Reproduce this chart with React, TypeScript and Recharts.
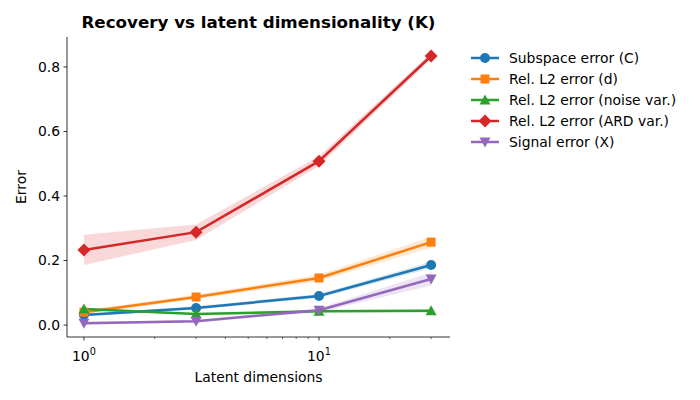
import React from "react";
import {
  ComposedChart,
  Line,
  Area,
  XAxis,
  YAxis,
} from "recharts";

// Latent dimensionality K (log x-axis)
const latentDims = [1, 3, 10, 30];

// Mean errors per series
const subspaceErr = [0.031, 0.053, 0.09, 0.186];
const relL2D = [0.04, 0.087, 0.146, 0.257];
const relL2Noise = [0.05, 0.034, 0.043, 0.044];
const relL2Ard = [0.233, 0.288, 0.508, 0.834];
const signalErr = [0.006, 0.012, 0.046, 0.143];

// Spread (half-width of shaded band) per series
const subspaceSpread = [0.004, 0.005, 0.006, 0.01];
const relL2DSpread = [0.006, 0.007, 0.01, 0.017];
const relL2NoiseSpread = [0.004, 0.003, 0.004, 0.005];
const relL2ArdSpread = [0.047, 0.024, 0.015, 0.01];
const signalSpread = [0.004, 0.004, 0.006, 0.02];

const yTicks = [0, 0.2, 0.4, 0.6, 0.8];
const xTicksMajor = [1, 10];
const xTicksMinor = [2, 3, 4, 5, 6, 7, 8, 9, 20, 30];

const FONT = "DejaVu Sans, sans-serif";

type Marker = "circle" | "square" | "triangleUp" | "diamond" | "triangleDown";

const series: {
  key: string;
  name: string;
  color: string;
  marker: Marker;
  mean: number[];
  spread: number[];
}[] = [
  { key: "C", name: "Subspace error (C)", color: "#1f77b4", marker: "circle", mean: subspaceErr, spread: subspaceSpread },
  { key: "d", name: "Rel. L2 error (d)", color: "#ff7f0e", marker: "square", mean: relL2D, spread: relL2DSpread },
  { key: "noise", name: "Rel. L2 error (noise var.)", color: "#2ca02c", marker: "triangleUp", mean: relL2Noise, spread: relL2NoiseSpread },
  { key: "ard", name: "Rel. L2 error (ARD var.)", color: "#d62728", marker: "diamond", mean: relL2Ard, spread: relL2ArdSpread },
  { key: "X", name: "Signal error (X)", color: "#9467bd", marker: "triangleDown", mean: signalErr, spread: signalSpread },
];

const data = latentDims.map((k, i) => {
  const row: Record<string, number | number[]> = { k };
  series.forEach((s) => {
    row[s.key] = s.mean[i];
    row[s.key + "_band"] = [s.mean[i] - s.spread[i], s.mean[i] + s.spread[i]];
  });
  return row;
});

function MarkerShape({ cx, cy, type, color }: { cx: number; cy: number; type: Marker; color: string }) {
  switch (type) {
    case "circle":
      return <circle cx={cx} cy={cy} r={5} fill={color} />;
    case "square":
      return <rect x={cx - 4.5} y={cy - 4.5} width={9} height={9} fill={color} />;
    case "triangleUp":
      return <polygon points={`${cx},${cy - 5.5} ${cx - 5.5},${cy + 4.5} ${cx + 5.5},${cy + 4.5}`} fill={color} />;
    case "triangleDown":
      return <polygon points={`${cx},${cy + 5.5} ${cx - 5.5},${cy - 4.5} ${cx + 5.5},${cy - 4.5}`} fill={color} />;
    case "diamond":
      return <polygon points={`${cx},${cy - 6.5} ${cx + 6.5},${cy} ${cx},${cy + 6.5} ${cx - 6.5},${cy}`} fill={color} />;
  }
}

function XTick(props: any) {
  const { x, y, payload } = props;
  const v = payload.value;
  const major = xTicksMajor.includes(v);
  return (
    <g>
      <line x1={x} x2={x} y1={y} y2={y + (major ? 3.5 : 2)} stroke="#000" strokeWidth={major ? 0.8 : 0.6} />
      {major && (
        <text x={x} y={y + 24} textAnchor="middle" fontSize={13.9} fontFamily={FONT} fill="#000">
          10
          <tspan dy={-6} fontSize={9.7}>
            {String(Math.round(Math.log10(v)))}
          </tspan>
        </text>
      )}
    </g>
  );
}

function Legend() {
  return (
    <div style={{ position: "absolute", left: 471, top: 48, fontFamily: FONT, fontSize: 13.9 }}>
      {series.map((s) => (
        <div key={s.key} style={{ display: "flex", alignItems: "center", height: 20.8 }}>
          <svg width={28} height={14} style={{ marginRight: 10 }}>
            <line x1={0} x2={28} y1={7} y2={7} stroke={s.color} strokeWidth={2.5} />
            <MarkerShape cx={14} cy={7} type={s.marker} color={s.color} />
          </svg>
          <span style={{ color: "#000", whiteSpace: "nowrap" }}>{s.name}</span>
        </div>
      ))}
    </div>
  );
}

export default function App() {
  return (
    <div style={{ position: "absolute", left: 0, top: 0, width: 700, height: 400, background: "#fff" }}>
      <div
        style={{
          position: "absolute",
          left: 67,
          width: 383,
          top: 12,
          textAlign: "center",
          fontFamily: FONT,
          fontWeight: "bold",
          fontSize: 16.7,
          color: "#000",
        }}
      >
        Recovery vs latent dimensionality (K)
      </div>
      <ComposedChart
        width={700}
        height={400}
        data={data}
        margin={{ top: 37, right: 250, left: 0, bottom: 0 }}
      >
        <XAxis
          dataKey="k"
          type="number"
          scale="log"
          domain={[0.847, 36.1]}
          allowDataOverflow
          ticks={[...xTicksMajor, ...xTicksMinor]}
          height={63}
          tickSize={0}
          tickMargin={0}
          tickLine={false}
          axisLine={{ stroke: "#000", strokeWidth: 0.8 }}
          tick={<XTick />}
          interval={0}
          label={{
            content: () => (
              <text x={258.5} y={382} textAnchor="middle" fontSize={13.9} fontFamily={FONT} fill="#000">
                Latent dimensions
              </text>
            ),
          }}
        />
        <YAxis
          type="number"
          domain={[-0.037, 0.893]}
          allowDataOverflow
          ticks={yTicks}
          width={67}
          tickSize={3.5}
          tickMargin={3.5}
          tickLine={{ stroke: "#000", strokeWidth: 0.8 }}
          axisLine={{ stroke: "#000", strokeWidth: 0.8 }}
          tick={{ fill: "#000", fontSize: 13.9, fontFamily: FONT }}
          tickFormatter={(v: number) => v.toFixed(1)}
          interval={0}
          label={{
            content: () => (
              <text
                x={26}
                y={187}
                textAnchor="middle"
                fontSize={13.9}
                fontFamily={FONT}
                fill="#000"
                transform="rotate(-90 26 187)"
              >
                Error
              </text>
            ),
          }}
        />
        {series.map((s) => (
          <Area
            key={s.key + "_band"}
            dataKey={s.key + "_band"}
            type="linear"
            stroke="none"
            fill={s.color}
            fillOpacity={0.18}
            isAnimationActive={false}
            activeDot={false}
          />
        ))}
        {series.map((s) => (
          <Line
            key={s.key}
            dataKey={s.key}
            name={s.name}
            type="linear"
            stroke={s.color}
            strokeWidth={2.5}
            isAnimationActive={false}
            activeDot={false}
            dot={(p: any) => (
              <MarkerShape key={`${s.key}-${p.index}`} cx={p.cx} cy={p.cy} type={s.marker} color={s.color} />
            )}
          />
        ))}
      </ComposedChart>
      <Legend />
    </div>
  );
}
